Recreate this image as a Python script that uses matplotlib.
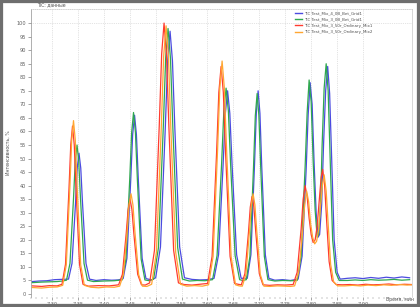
import numpy as np
import matplotlib
matplotlib.use("Agg")
import matplotlib.pyplot as plt
from matplotlib.patches import Rectangle
from matplotlib.ticker import MultipleLocator

# --- Serie 1 (azul) ---
blue_t = [7.262, 7.275, 7.290, 7.305, 7.318,
          7.3319, 7.3386, 7.3454, 7.3487, 7.3521, 7.3555, 7.3589, 7.3656, 7.3724,
          7.385, 7.400, 7.415, 7.428,
          7.4373, 7.4446, 7.4519, 7.4556, 7.4593, 7.4629, 7.4666, 7.4739, 7.4813,
          7.492,
          7.5000, 7.5093, 7.5185, 7.5232, 7.5278, 7.5324, 7.5371, 7.5463, 7.5556,
          7.570, 7.585, 7.600,
          7.6127, 7.6214, 7.6301, 7.6345, 7.6388, 7.6431, 7.6475, 7.6562, 7.6649,
          7.6768, 7.6838, 7.6907, 7.6942, 7.6977, 7.7012, 7.7046, 7.7116, 7.7185,
          7.730, 7.745, 7.760,
          7.7749, 7.7826, 7.7904, 7.7942, 7.7981, 7.8019, 7.8058, 7.8097, 7.8135, 7.8164,
          7.8203, 7.8241, 7.8280, 7.8319, 7.8357, 7.8396, 7.8444, 7.8502, 7.8560,
          7.870, 7.885, 7.900, 7.915, 7.930, 7.945, 7.960, 7.975, 7.990]
blue_v = [4.6, 4.8, 4.9, 5.3, 5.4,
          5.5, 11.3, 33.5, 46.5, 52.0, 46.5, 33.5, 11.3, 5.5,
          5.0, 5.3, 5.1, 5.2,
          5.7, 13.2, 42.0, 58.8, 66.0, 58.8, 42.0, 13.2, 5.7,
          5.2,
          6.0, 17.4, 60.8, 86.1, 97.0, 86.1, 60.8, 17.4, 6.0,
          5.4, 5.2, 5.3,
          5.8, 14.5, 47.5, 66.7, 75.0, 66.7, 47.5, 14.5, 5.8,
          5.8, 14.5, 47.5, 66.7, 75.0, 66.7, 47.5, 14.5, 5.8,
          5.1, 5.3, 5.0,
          5.5, 14.0, 46.0, 66.0, 78.0, 70.0, 48.0, 30.0, 21.0, 22.0,
          33.0, 56.0, 75.0, 84.0, 74.0, 50.0, 20.0, 8.0, 5.5,
          5.8, 6.0, 5.7, 6.1, 5.8, 6.2, 5.9, 6.3, 6.0]

# --- Serie 2 (verde) ---
green_t = [7.262, 7.280, 7.295, 7.310, 7.320,
           7.3280, 7.3347, 7.3415, 7.3449, 7.3483, 7.3516, 7.3550, 7.3618, 7.3685,
           7.380, 7.400, 7.420,
           7.4353, 7.4427, 7.4500, 7.4537, 7.4573, 7.4610, 7.4647, 7.4720, 7.4793,
           7.488,
           7.4961, 7.5054, 7.5147, 7.5193, 7.5239, 7.5286, 7.5332, 7.5425, 7.5517,
           7.565, 7.580, 7.595,
           7.6098, 7.6185, 7.6272, 7.6316, 7.6359, 7.6403, 7.6446, 7.6533, 7.6620,
           7.668,
           7.6749, 7.6819, 7.6888, 7.6923, 7.6958, 7.6992, 7.7027, 7.7097, 7.7166,
           7.730, 7.745, 7.760,
           7.7730, 7.7807, 7.7884, 7.7923, 7.7961, 7.8000, 7.8039, 7.8077, 7.8116, 7.8145,
           7.8183, 7.8212, 7.8251, 7.8290, 7.8328, 7.8367, 7.8415, 7.8473, 7.8541,
           7.870, 7.885, 7.900, 7.915, 7.930, 7.945, 7.960, 7.975, 7.990]
green_v = [4.2, 4.4, 4.5, 4.6, 4.8,
           5.1, 11.3, 35.2, 49.0, 55.0, 49.0, 35.2, 11.3, 5.1,
           4.6, 4.8, 4.9,
           5.2, 12.9, 42.4, 59.6, 67.0, 59.6, 42.4, 12.9, 5.2,
           4.9,
           5.5, 17.1, 61.3, 87.0, 98.0, 87.0, 61.3, 17.1, 5.5,
           4.8, 5.0, 4.9,
           5.3, 14.2, 47.9, 67.6, 76.0, 67.6, 47.9, 14.2, 5.3,
           5.0,
           5.3, 13.9, 46.7, 65.8, 74.0, 65.8, 46.7, 13.9, 5.3,
           4.8, 5.0, 4.9,
           5.0, 14.0, 47.0, 67.0, 79.0, 71.0, 49.0, 31.0, 21.0, 22.0,
           34.0, 55.0, 76.0, 85.0, 75.0, 50.0, 20.0, 8.0, 5.0,
           5.0, 5.2, 5.0, 5.3, 5.1, 5.2, 5.4, 5.1, 5.3]

# --- Serie 3 (roja) ---
red_t = [7.262, 7.280, 7.295, 7.310,
         7.3193, 7.3261, 7.3328, 7.3362, 7.3396, 7.3430, 7.3463, 7.3531, 7.3598,
         7.370, 7.390, 7.410, 7.420,
         7.4286, 7.4359, 7.4432, 7.4469, 7.4506, 7.4542, 7.4579, 7.4653, 7.4726,
         7.480,
         7.4884, 7.4977, 7.5069, 7.5116, 7.5162, 7.5208, 7.5255, 7.5347, 7.5440,
         7.555, 7.570, 7.585,
         7.6002, 7.6089, 7.6176, 7.6219, 7.6263, 7.6306, 7.6349, 7.6436, 7.6523,
         7.659,
         7.6653, 7.6722, 7.6792, 7.6826, 7.6861, 7.6896, 7.6931, 7.7000, 7.7070,
         7.720, 7.735, 7.750,
         7.7653, 7.7730, 7.7807, 7.7846, 7.7884, 7.7923, 7.7961, 7.8000, 7.8039, 7.8077,
         7.8116, 7.8154, 7.8193, 7.8222, 7.8261, 7.8299, 7.8347, 7.8405, 7.8483,
         7.860, 7.875, 7.890, 7.905, 7.920, 7.935, 7.950, 7.965, 7.980, 7.994]
red_v = [3.0, 2.8, 3.1, 3.0,
         3.6, 11.0, 38.8, 55.0, 62.0, 55.0, 38.8, 11.0, 3.6,
         2.9, 3.1, 3.0, 3.2,
         3.4, 7.3, 22.4, 31.2, 35.0, 31.2, 22.4, 7.3, 3.4,
         3.3,
         4.1, 16.1, 61.9, 88.6, 100.0, 88.6, 61.9, 16.1, 4.1,
         3.5, 3.3, 3.6,
         3.9, 13.9, 52.2, 74.4, 84.0, 74.4, 52.2, 13.9, 3.9,
         3.6,
         3.4, 7.5, 23.0, 32.1, 36.0, 32.1, 23.0, 7.5, 3.4,
         3.2, 3.4, 3.3,
         3.5, 8.0, 24.0, 35.0, 40.0, 36.0, 28.0, 22.0, 19.0, 20.0,
         25.0, 34.0, 43.0, 46.0, 40.0, 27.0, 12.0, 5.0, 3.5,
         3.4, 3.5, 3.3, 3.6, 3.4, 3.5, 3.7, 3.4, 3.6, 3.5]

# --- Serie 4 (naranja) ---
orange_t = [7.262, 7.280, 7.295, 7.310,
            7.3207, 7.3276, 7.3346, 7.3380, 7.3415, 7.3450, 7.3485, 7.3554, 7.3624,
            7.375, 7.390, 7.405, 7.420,
            7.4305, 7.4378, 7.4452, 7.4488, 7.4525, 7.4562, 7.4598, 7.4672, 7.4745,
            7.483,
            7.4923, 7.5015, 7.5108, 7.5154, 7.5201, 7.5247, 7.5293, 7.5386, 7.5479,
            7.560, 7.575, 7.590,
            7.6021, 7.6108, 7.6195, 7.6238, 7.6282, 7.6325, 7.6369, 7.6456, 7.6542,
            7.661,
            7.6672, 7.6741, 7.6811, 7.6846, 7.6880, 7.6915, 7.6950, 7.7019, 7.7089,
            7.720, 7.735, 7.750, 7.760,
            7.7681, 7.7759, 7.7836, 7.7875, 7.7913, 7.7952, 7.7990, 7.8029, 7.8068, 7.8106,
            7.8145, 7.8183, 7.8222, 7.8251, 7.8290, 7.8328, 7.8376, 7.8434, 7.8512,
            7.865, 7.880, 7.895, 7.910, 7.925, 7.940, 7.955, 7.970, 7.985, 7.994]
orange_v = [2.4, 2.2, 2.5, 2.6,
            3.2, 10.8, 39.8, 56.7, 64.0, 56.7, 39.8, 10.8, 3.2,
            2.5, 2.3, 2.6, 2.5,
            2.9, 7.2, 23.4, 32.9, 37.0, 32.9, 23.4, 7.2, 2.9,
            2.8,
            3.6, 15.5, 61.1, 87.6, 99.0, 87.6, 61.1, 15.5, 3.6,
            2.9, 3.1, 2.9,
            3.4, 13.8, 53.2, 76.1, 86.0, 76.1, 53.2, 13.8, 3.4,
            3.0,
            2.9, 7.2, 23.4, 32.9, 37.0, 32.9, 23.4, 7.2, 2.9,
            2.8, 3.0, 2.9, 2.8,
            3.0, 8.0, 23.0, 33.0, 38.0, 34.0, 26.0, 21.0, 18.5, 19.5,
            24.0, 33.0, 41.0, 44.0, 38.0, 26.0, 11.0, 4.5, 3.0,
            3.0, 3.2, 3.0, 3.3, 3.1, 3.4, 3.2, 3.5, 3.3, 3.4]

nombres = ["TIC Test_Mix_4_0B_Bet_Grid1",
           "TIC Test_Mix_3_0B_Bet_Grid1",
           "TIC Test_Mix_3_50r_Ordinary_Mix1",
           "TIC Test_Mix_3_50r_Ordinary_Mix2"]
colores = ["#4b4be0", "#2fa84f", "#ff3b2f", "#ffa632"]
series = [(blue_t, blue_v), (green_t, green_v), (red_t, red_v), (orange_t, orange_v)]

x_ticks = [7.30, 7.35, 7.40, 7.45, 7.50, 7.55, 7.60, 7.65, 7.70, 7.75, 7.80, 7.85, 7.90]
y_ticks = list(range(0, 101, 5))

fig = plt.figure(figsize=(4.2, 3.07), dpi=100)
ax = fig.add_axes([31 / 420, 10 / 307, 381 / 420, 288 / 307])

for (t, v), c, n in zip(series, colores, nombres):
    t = np.array(t)
    v = np.array(v)
    orden = np.argsort(t)
    ax.plot(t[orden], v[orden], color=c, linewidth=0.9, label=n)

ax.set_xlim(7.2595, 7.9946)
ax.set_ylim(-1.1, 105.2)

ax.set_xticks(x_ticks)
ax.set_xticklabels([f"{x:.2f}" for x in x_ticks])
ax.xaxis.set_minor_locator(MultipleLocator(0.01))
ax.set_yticks(y_ticks)
ax.tick_params(axis="both", which="major", labelsize=3.6, length=2, width=0.4,
               colors="#606060", pad=1.5)
ax.tick_params(axis="x", which="minor", length=1.2, width=0.3, colors="#808080")

ax.grid(True, axis="x", linestyle=":", linewidth=0.5, color="#c8c8c8")
ax.axhline(100, linestyle=":", linewidth=0.5, color="#c8c8c8", zorder=0)

ax.spines["top"].set_linestyle(":")
ax.spines["top"].set_color("#c0c0c0")
ax.spines["top"].set_linewidth(0.5)
ax.spines["right"].set_color("#c8c8c8")
ax.spines["right"].set_linewidth(0.5)
ax.spines["left"].set_color("#909090")
ax.spines["left"].set_linewidth(0.5)
ax.spines["bottom"].set_visible(False)

leg = ax.legend(loc="upper left", bbox_to_anchor=(262 / 381, 1.0), frameon=False,
                fontsize=2.9, handlelength=1.6, handletextpad=0.6, labelspacing=0.55,
                borderaxespad=0.2)
for linea in leg.get_lines():
    linea.set_linewidth(1.0)
for txt in leg.get_texts():
    txt.set_color("#505050")

fig.text(37 / 420, 1 - 5 / 307, "TIC: данные", fontsize=3.3, color="#505050",
         va="center", ha="left")
fig.text(8 / 420, 1 - 153 / 307, "Интенсивность, %", fontsize=3.3, color="#505050",
         rotation=90, va="center", ha="center")
fig.text(400 / 420, 1 - 300 / 307, "Время, мин", fontsize=3.3, color="#505050",
         va="center", ha="center")

# marco gris de la figura
fig.patches.append(Rectangle((0, 0), 1, 1, transform=fig.transFigure, fill=False,
                             edgecolor="#6e6e6e", linewidth=4.5, zorder=10))

fig.savefig("out.png", dpi=100)
